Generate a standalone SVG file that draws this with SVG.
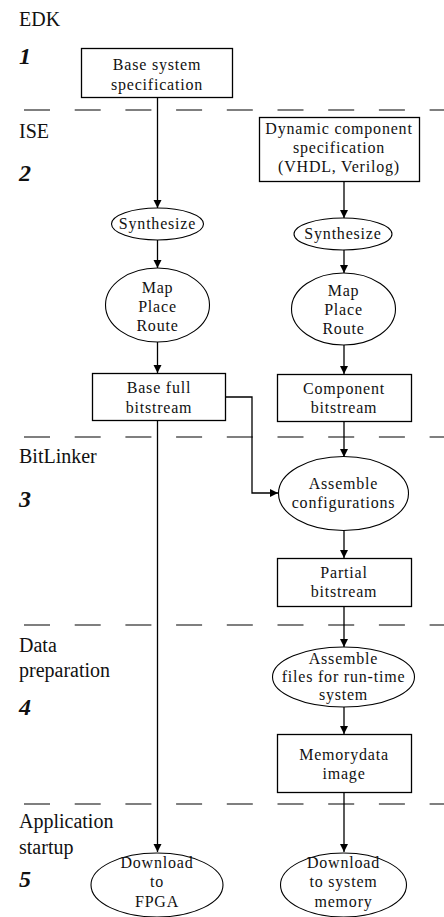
<svg xmlns="http://www.w3.org/2000/svg" width="444" height="917" viewBox="0 0 444 917">
<defs>
<marker id="ah" viewBox="0 0 10 10" refX="10" refY="5" markerWidth="8" markerHeight="10" markerUnits="userSpaceOnUse" orient="auto">
<path d="M0,0 L10,5 L0,10 z" fill="#000"/>
</marker>
<style>
text{font-family:'Liberation Serif','Times New Roman',Tinos,'DejaVu Serif',serif}
.lbl{font-size:20px;fill:#111}
.num{font-size:24px;font-weight:bold;font-style:italic;fill:#111}
.t{font-size:16px;letter-spacing:0.8px;fill:#111;text-anchor:middle}
.box{fill:#fff;stroke:#000;stroke-width:1.3}
.ell{fill:#fff;stroke:#000;stroke-width:1.1}
.dash{stroke:#555;stroke-width:1.5;stroke-dasharray:26 24.7;fill:none}
.c{stroke:#000;stroke-width:1.3;fill:none;marker-end:url(#ah)}
</style>
</defs>
<rect width="444" height="917" fill="#fff"/>
<g id="separators">
<line class="dash" x1="24" y1="110" x2="444" y2="110"/>
<line class="dash" x1="24" y1="437" x2="444" y2="437"/>
<line class="dash" x1="24" y1="625" x2="444" y2="625"/>
<line class="dash" x1="24" y1="804" x2="444" y2="804"/>
</g>
<g id="stage-labels">
<text class="lbl" x="19" y="26">EDK</text>
<text class="num" x="19" y="64">1</text>
<text class="lbl" x="19" y="138">ISE</text>
<text class="num" x="19" y="181">2</text>
<text class="lbl" x="19" y="463">BitLinker</text>
<text class="num" x="19" y="507">3</text>
<text class="lbl" x="19" y="652">Data</text>
<text class="lbl" x="19" y="677">preparation</text>
<text class="num" x="19" y="715">4</text>
<text class="lbl" x="19" y="828">Application</text>
<text class="lbl" x="19" y="854">startup</text>
<text class="num" x="19" y="887">5</text>
</g>
<g id="connectors">
<line class="c" x1="157.5" y1="97" x2="157.5" y2="208"/>
<line class="c" x1="157.5" y1="240" x2="157.5" y2="268"/>
<line class="c" x1="157.5" y1="342" x2="157.5" y2="373"/>
<line class="c" x1="157.5" y1="421" x2="157.5" y2="852"/>
<polyline class="c" points="225,397 252,397 252,493 278,493"/>
<line class="c" x1="344" y1="181" x2="344" y2="218"/>
<line class="c" x1="344" y1="250" x2="344" y2="273"/>
<line class="c" x1="344" y1="345" x2="344" y2="374"/>
<line class="c" x1="344" y1="422" x2="344" y2="457"/>
<line class="c" x1="344" y1="530" x2="344" y2="558"/>
<line class="c" x1="344" y1="607" x2="344" y2="647"/>
<line class="c" x1="344" y1="707" x2="344" y2="734"/>
<line class="c" x1="344" y1="793" x2="344" y2="852"/>
</g>
<g id="base-system">
<rect class="box" x="81.5" y="48.5" width="151" height="49"/>
<text class="t" x="157" y="70">Base system</text>
<text class="t" x="157" y="90">specification</text>
</g>
<g id="dynamic-spec">
<rect class="box" x="259.5" y="117.5" width="160" height="64"/>
<text class="t" x="339" y="134">Dynamic component</text>
<text class="t" x="339" y="153">specification</text>
<text class="t" x="339" y="172">(VHDL, Verilog)</text>
</g>
<g id="synth-left">
<ellipse class="ell" cx="157.5" cy="224" rx="46" ry="16"/>
<text class="t" x="157.5" y="229">Synthesize</text>
</g>
<g id="synth-right">
<ellipse class="ell" cx="343" cy="234" rx="49" ry="16"/>
<text class="t" x="343" y="239">Synthesize</text>
</g>
<g id="mpr-left">
<ellipse class="ell" cx="157.5" cy="305" rx="52" ry="37"/>
<text class="t" x="157.5" y="293">Map</text>
<text class="t" x="157.5" y="312">Place</text>
<text class="t" x="157.5" y="331">Route</text>
</g>
<g id="mpr-right">
<ellipse class="ell" cx="343.5" cy="309" rx="52" ry="36"/>
<text class="t" x="343.5" y="296">Map</text>
<text class="t" x="343.5" y="315">Place</text>
<text class="t" x="343.5" y="334">Route</text>
</g>
<g id="base-full">
<rect class="box" x="92.5" y="373.5" width="133" height="47"/>
<text class="t" x="159" y="393">Base full</text>
<text class="t" x="159" y="413">bitstream</text>
</g>
<g id="component-bitstream">
<rect class="box" x="277.5" y="374.5" width="134" height="47"/>
<text class="t" x="344" y="394">Component</text>
<text class="t" x="344" y="413">bitstream</text>
</g>
<g id="assemble-config">
<ellipse class="ell" cx="343.5" cy="493.5" rx="65" ry="37"/>
<text class="t" x="343.5" y="489">Assemble</text>
<text class="t" x="343.5" y="508">configurations</text>
</g>
<g id="partial-bitstream">
<rect class="box" x="277.5" y="558.5" width="134" height="48"/>
<text class="t" x="344" y="578">Partial</text>
<text class="t" x="344" y="597">bitstream</text>
</g>
<g id="assemble-files">
<ellipse class="ell" cx="343.5" cy="677" rx="71" ry="30"/>
<text class="t" x="343.5" y="664">Assemble</text>
<text class="t" x="343.5" y="682">files for run-time</text>
<text class="t" x="343.5" y="700">system</text>
</g>
<g id="memory-image">
<rect class="box" x="277.5" y="734.5" width="134" height="58"/>
<text class="t" x="344" y="760">Memorydata</text>
<text class="t" x="344" y="779">image</text>
</g>
<g id="download-fpga">
<ellipse class="ell" cx="157" cy="885" rx="66" ry="32"/>
<text class="t" x="157" y="868">Download</text>
<text class="t" x="157" y="887">to</text>
<text class="t" x="157" y="907">FPGA</text>
</g>
<g id="download-memory">
<ellipse class="ell" cx="343.5" cy="885" rx="63" ry="32"/>
<text class="t" x="343.5" y="868">Download</text>
<text class="t" x="343.5" y="887">to system</text>
<text class="t" x="343.5" y="907">memory</text>
</g>
</svg>
